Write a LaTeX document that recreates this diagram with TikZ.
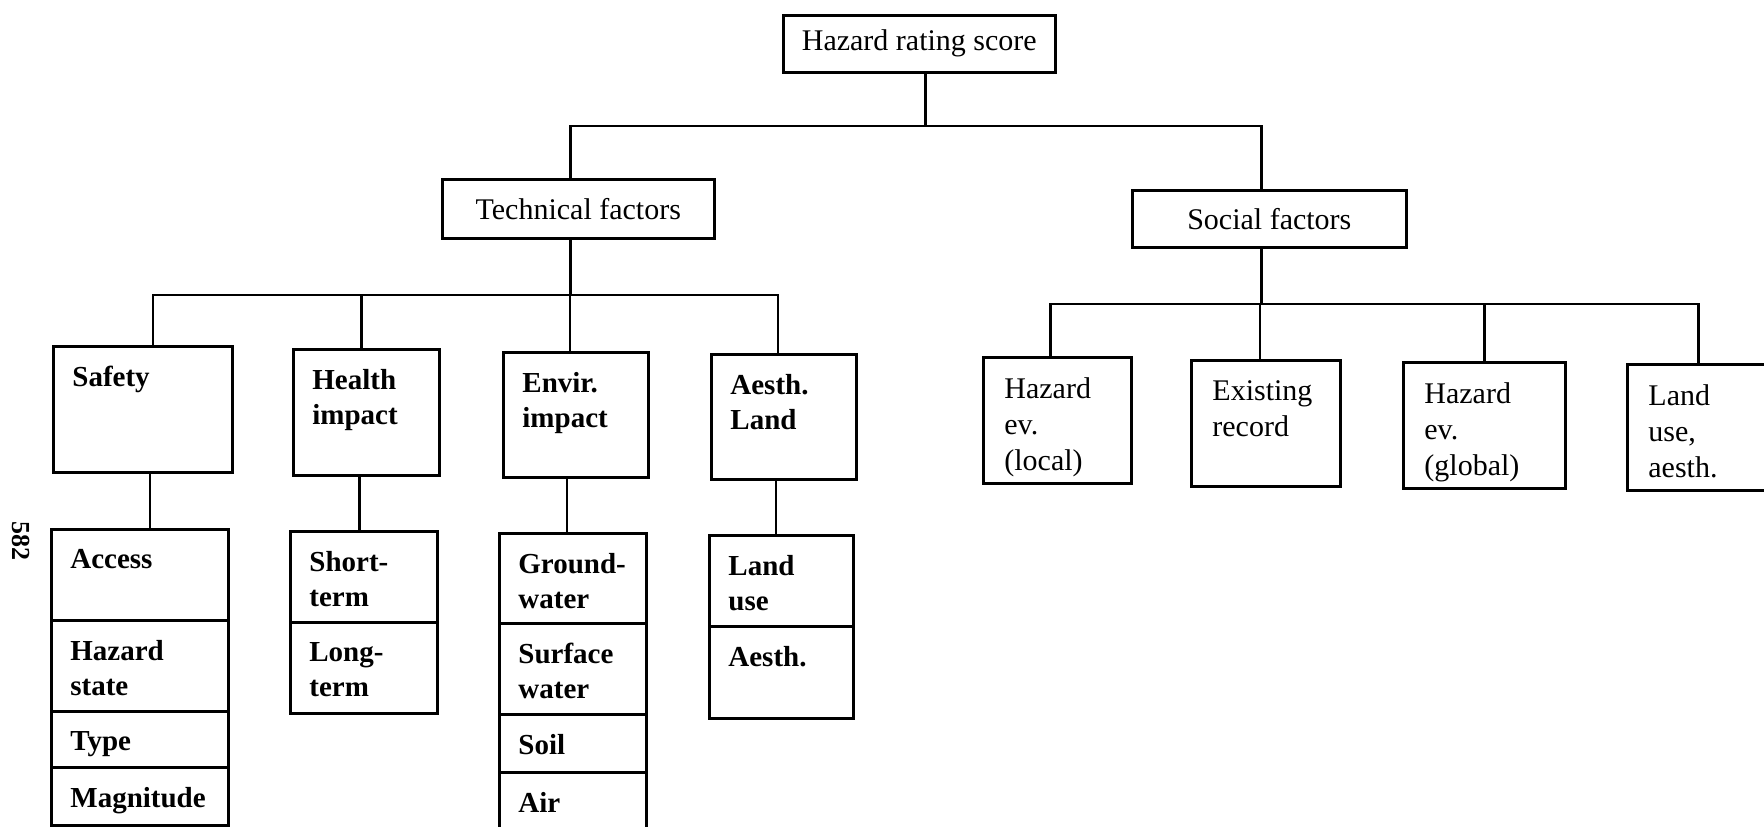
\documentclass[tikz,border=0pt]{standalone}
\usepackage{fontspec}
\setmainfont{Liberation Serif}
\tikzset{
  boxsize/.style 2 args={minimum width=#1*0.5pt,minimum height=#2*0.5pt},
  link/.style={line width=1.3pt},
  headbox/.style={draw,line width=1.3pt,anchor=north west,inner sep=0pt,font=\fontsize{15}{18}\selectfont},
  factorbox/.style={draw,line width=1.3pt,anchor=north west,inner sep=0pt},
  techtext/.style={anchor=north west,align=left,inner xsep=10pt,inner ysep=10.5pt,font=\bfseries\fontsize{14.5}{17.5}\selectfont},
  socialtext/.style={anchor=north west,align=left,inner xsep=11pt,inner ysep=10.5pt,font=\fontsize{15}{18}\selectfont}
}
\begin{document}
\begin{tikzpicture}[x=0.5pt,y=-0.5pt]
  \useasboundingbox (0,0) rectangle (1764,826);
  \clip (0,0) rectangle (1764,826);
  % top levels
  \node[headbox,boxsize={272}{57}] (root) at (782,14) {Hazard rating score};
  \node[headbox,boxsize={272}{59}] (tech) at (441,178) {Technical factors};
  \node[headbox,boxsize={274}{57}] (social) at (1131,189) {Social factors};
  \coordinate (bus) at (0,126);
  \coordinate (techbus) at (0,295);
  \coordinate (socbus) at (0,304);
  % technical factors
  \node[factorbox,boxsize={179}{126},label={[techtext]north west:Safety}] (safety) at (52,345) {};
  \node[factorbox,boxsize={146}{126},label={[techtext]north west:Health\\impact}] (health) at (292,348) {};
  \node[factorbox,boxsize={145}{125},label={[techtext]north west:Envir.\\impact}] (envir) at (502,351) {};
  \node[factorbox,boxsize={145}{125},label={[techtext]north west:Aesth.\\Land}] (aesth) at (710,353) {};
  \node[factorbox,boxsize={177}{91},label={[techtext]north west:Access}] (access) at (50,528) {};
  \node[factorbox,boxsize={177}{91},label={[techtext]north west:Hazard\\state}] (hstate) at (50,619) {};
  \node[factorbox,boxsize={177}{56},label={[techtext]north west:Type}] (type) at (50,710) {};
  \node[factorbox,boxsize={177}{58},label={[techtext]north west:Magnitude}] (magnitude) at (50,766) {};
  \node[factorbox,boxsize={147}{91},label={[techtext]north west:Short-\\term}] (short) at (289,530) {};
  \node[factorbox,boxsize={147}{91},label={[techtext]north west:Long-\\term}] (long) at (289,621) {};
  \node[factorbox,boxsize={147}{90},label={[techtext]north west:Ground-\\water}] (ground) at (498,532) {};
  \node[factorbox,boxsize={147}{91},label={[techtext]north west:Surface\\water}] (surface) at (498,622) {};
  \node[factorbox,boxsize={147}{58},label={[techtext]north west:Soil}] (soil) at (498,713) {};
  \node[factorbox,boxsize={147}{64},label={[techtext]north west:Air}] (air) at (498,771) {};
  \node[factorbox,boxsize={144}{91},label={[techtext]north west:Land\\use}] (landuse) at (708,534) {};
  \node[factorbox,boxsize={144}{92},label={[techtext]north west:Aesth.}] (aesthsub) at (708,625) {};
  % social factors
  \node[factorbox,boxsize={148}{126},label={[socialtext]north west:Hazard\\ev.\\(local)}] (hlocal) at (982,356) {};
  \node[factorbox,boxsize={149}{126},label={[socialtext]north west:Existing\\record}] (existing) at (1190,359) {};
  \node[factorbox,boxsize={162}{126},label={[socialtext]north west:Hazard\\ev.\\(global)}] (hglobal) at (1402,361) {};
  \node[factorbox,boxsize={142}{126},label={[socialtext]north west:Land\\use,\\aesth.}] (landaesth) at (1626,363) {};
  % stem points, a little off the box centres as in the print
  \coordinate (rootdown) at ([xshift=3pt]root.south);
  \coordinate (techup) at ([xshift=-4pt]tech.north);
  \coordinate (techdown) at ([xshift=-4pt]tech.south);
  \coordinate (socialup) at ([xshift=-4pt]social.north);
  \coordinate (socialdown) at ([xshift=-4pt]social.south);
  \coordinate (safetyup) at ([xshift=5pt]safety.north);
  \coordinate (healthup) at ([xshift=-2.5pt]health.north);
  \coordinate (envirup) at ([xshift=-3pt]envir.north);
  \coordinate (aesthup) at ([xshift=-3pt]aesth.north);
  \coordinate (hlocalup) at ([xshift=-3.5pt]hlocal.north);
  \coordinate (existingup) at ([xshift=-3pt]existing.north);
  \coordinate (safetydown) at ([xshift=3.5pt]safety.south);
  \coordinate (healthdown) at ([xshift=-3.5pt]health.south);
  \coordinate (envirdown) at ([xshift=-4.5pt]envir.south);
  \coordinate (aesthdown) at ([xshift=-4pt]aesth.south);
  % connectors
  \draw[link] (rootdown) -- (rootdown |- bus);
  \draw[link] (techup) |- (socialup |- bus) -- (socialup);
  \draw[link] (techdown) -- (techdown |- techbus);
  \draw[link] (safetyup) |- (aesthup |- techbus) -- (aesthup);
  \foreach \n in {healthup,envirup}
    \draw[link] (\n) -- (\n |- techbus);
  \draw[link] (socialdown) -- (socialdown |- socbus);
  \draw[link] (hlocalup) |- (landaesth.north |- socbus) -- (landaesth.north);
  \foreach \n in {existingup,hglobal.north}
    \draw[link] (\n) -- (\n |- socbus);
  \draw[link] (safetydown) -- (safetydown |- access.north);
  \draw[link] (healthdown) -- (healthdown |- short.north);
  \draw[link] (envirdown) -- (envirdown |- ground.north);
  \draw[link] (aesthdown) -- (aesthdown |- landuse.north);
  % page number
  \node[rotate=-90,font=\bfseries\fontsize{13}{15}\selectfont] (page) at (21,541) {582};
\end{tikzpicture}
\end{document}
